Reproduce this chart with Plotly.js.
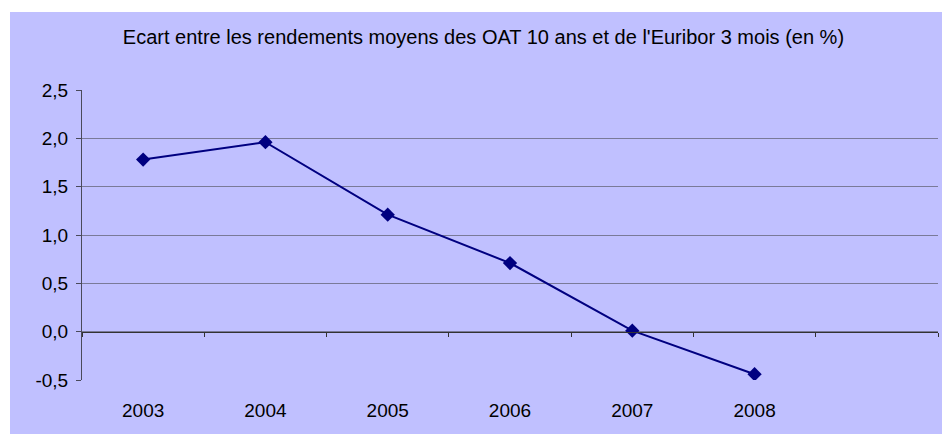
<!DOCTYPE html>
<html>
<head>
<meta charset="utf-8">
<script src="https://cdn.plot.ly/plotly-3.0.1.min.js"></script>
<style>
  html, body { margin: 0; padding: 0; background: #ffffff; width: 942px; height: 434px; overflow: hidden; }
  #chart { position: absolute; left: 10px; top: 12px; width: 932px; height: 422px; }
</style>
</head>
<body>
<div id="chart"></div>
<script>
const years = [2003, 2004, 2005, 2006, 2007, 2008];
const yearLabels = ['2003', '2004', '2005', '2006', '2007', '2008'];
const spread = [1.78, 1.96, 1.21, 0.71, 0.01, -0.44];
const yTickVals = [-0.5, 0, 0.5, 1, 1.5, 2, 2.5];
const yTickText = ['-0,5', '0,0', '0,5', '1,0', '1,5', '2,0', '2,5'];
const catEdges = [2002.5, 2003.5, 2004.5, 2005.5, 2006.5, 2007.5, 2008.5, 2009.5];
const titleText = "Ecart entre les rendements moyens des OAT 10 ans et de l'Euribor 3 mois (en %)";

const bg = '#c0c0ff';
const fontFam = 'Liberation Sans, Arial, sans-serif';

const traces = [
  {
    x: years, y: spread, xaxis: 'x2', yaxis: 'y',
    mode: 'none', hoverinfo: 'skip', showlegend: false
  },
  {
    x: years, y: spread, xaxis: 'x', yaxis: 'y',
    type: 'scatter', mode: 'lines+markers',
    line: { color: '#000080', width: 2 },
    marker: { symbol: 'diamond', size: 11, color: '#000080' },
    showlegend: false
  }
];

const layout = {
  width: 932, height: 422,
  paper_bgcolor: bg, plot_bgcolor: bg,
  margin: { l: 72, r: 4, t: 78, b: 54 },
  font: { family: fontFam, color: '#000000', size: 19 },
  title: {
    text: titleText,
    font: { family: fontFam, size: 20, color: '#000000' },
    x: 0.508, xanchor: 'center', y: 0.94, yanchor: 'middle'
  },
  xaxis: {
    range: [2002.5, 2009.5],
    tickvals: years, ticktext: yearLabels,
    showgrid: false, zeroline: false, showline: false,
    ticks: '', ticklabelstandoff: 17,
    tickfont: { size: 19, family: fontFam }
  },
  xaxis2: {
    overlaying: 'x', anchor: 'free', position: 1/6,
    range: [2002.5, 2009.5],
    tickvals: catEdges, showticklabels: false,
    showgrid: false, zeroline: false,
    showline: true, linecolor: '#333333', linewidth: 1,
    ticks: 'outside', ticklen: 4, tickcolor: '#333333', tickwidth: 1
  },
  yaxis: {
    range: [-0.5, 2.5],
    tickvals: yTickVals, ticktext: yTickText,
    showgrid: true, gridcolor: '#7a7a98', gridwidth: 1,
    zeroline: false,
    showline: true, linecolor: '#4a4a5a', linewidth: 1,
    ticks: 'outside', ticklen: 5, tickcolor: '#4a4a5a',
    ticklabelstandoff: 4,
    tickfont: { size: 19, family: fontFam }
  }
};

Plotly.newPlot('chart', traces, layout, { displayModeBar: false, staticPlot: true });
</script>
</body>
</html>
